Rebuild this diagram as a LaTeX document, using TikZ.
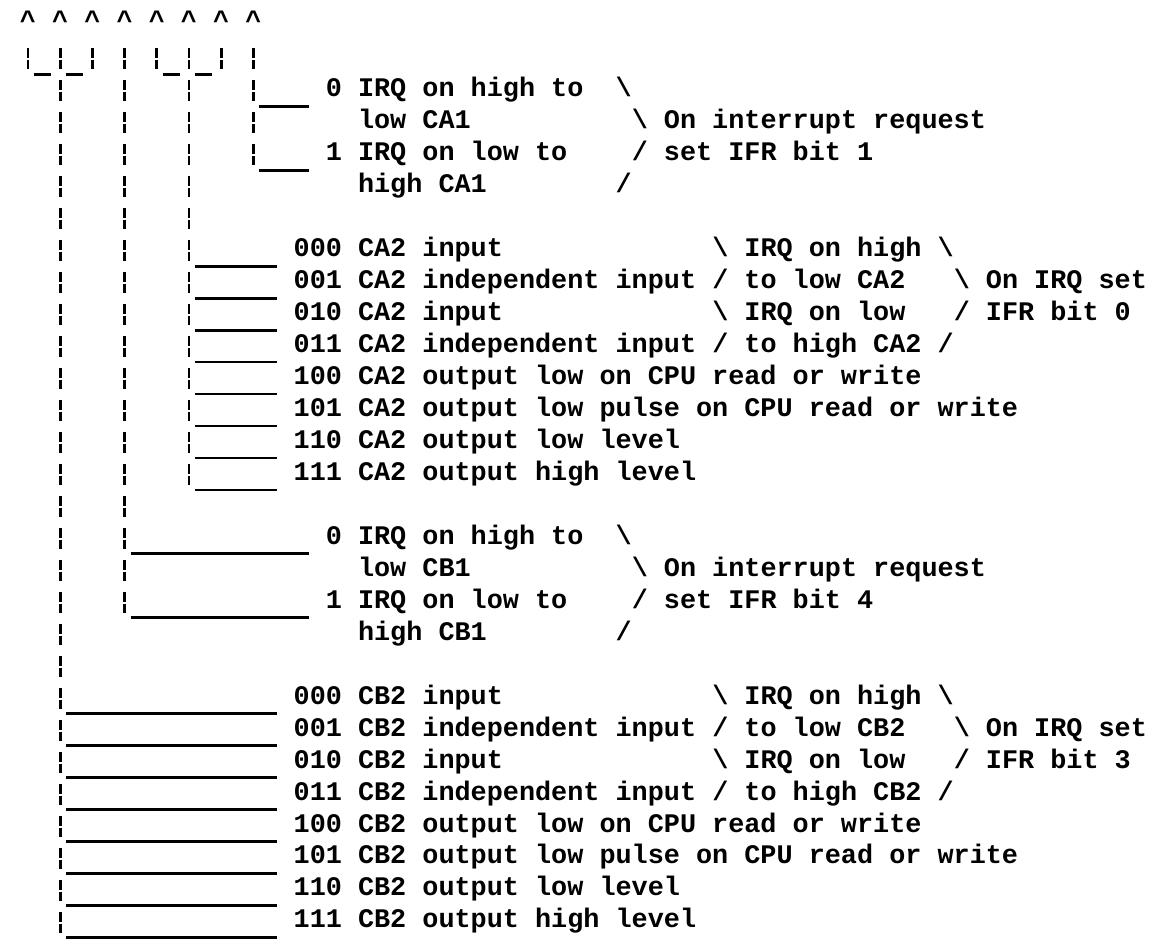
\documentclass[tikz,border=0pt]{standalone}
\usepackage{fontspec}
\newfontfamily\typefont{Liberation Mono}
\usetikzlibrary{calc}
\begin{document}
\begin{tikzpicture}[x=16.1pt,y=-31.96pt,
  txt/.style={anchor=base west,inner sep=0pt,outer sep=0pt,
    font=\typefont\bfseries\fontsize{26.83pt}{32pt}\selectfont},
  pipe/.style={line width=2.8pt,dash pattern=on 10pt off 2pt on 9pt off 11pt},
  rule/.style={line width=2.8pt}]
% one grid unit = one character cell; (c,r) = left edge of column c on baseline r
\useasboundingbox (-3.85pt,33pt) rectangle (1148.15pt,-907pt);

% bit markers 7..0
\foreach \b/\c in {7/1,6/3,5/5,4/7,3/9,2/11,1/13,0/15}
  \node[txt] (bit\b) at (\c,-0.1) {\textasciicircum};

\coordinate (ptop) at ([yshift=17pt]0,1);
\coordinate (pjoin) at (0,1.297);

% ---- CA1 control (bit 0)
\node[txt] (ca1a) at (20,2) {0 IRQ on high to};
\node[txt] (ca1ax) at (38,2) {\textbackslash};
\node[txt] (ca1b) at (22,3) {low CA1};
\node[txt] (ca1bx) at (39,3) {\textbackslash{} On interrupt request};
\node[txt] (ca1c) at (20,4) {1 IRQ on low to};
\node[txt] (ca1cx) at (39,4) {/ set IFR bit 1};
\node[txt] (ca1d) at (22,5) {high CA1};
\node[txt] (ca1dx) at (38,5) {/};

% ---- CA2 control (bits 3-1)
\foreach \t [count=\i from 0] in {000 CA2 input,001 CA2 independent input,
    010 CA2 input,011 CA2 independent input,
    100 CA2 output low on CPU read or write,
    101 CA2 output low pulse on CPU read or write,
    110 CA2 output low level,111 CA2 output high level}
  \node[txt] (ca2o\i) at (18,7+\i) {\t};
\node[txt] (ca2n1) at (44,7) {\textbackslash{} IRQ on high \textbackslash};
\node[txt] (ca2n2) at (44,8) {/ to low CA2};
\node[txt] (ca2n3) at (59,8) {\textbackslash{} On IRQ set};
\node[txt] (ca2n4) at (44,9) {\textbackslash{} IRQ on low};
\node[txt] (ca2n5) at (59,9) {/ IFR bit 0};
\node[txt] (ca2n6) at (44,10) {/ to high CA2 /};

% ---- CB1 control (bit 4)
\node[txt] (cb1a) at (20,16) {0 IRQ on high to};
\node[txt] (cb1ax) at (38,16) {\textbackslash};
\node[txt] (cb1b) at (22,17) {low CB1};
\node[txt] (cb1bx) at (39,17) {\textbackslash{} On interrupt request};
\node[txt] (cb1c) at (20,18) {1 IRQ on low to};
\node[txt] (cb1cx) at (39,18) {/ set IFR bit 4};
\node[txt] (cb1d) at (22,19) {high CB1};
\node[txt] (cb1dx) at (38,19) {/};

% ---- CB2 control (bits 7-5)
\foreach \t [count=\i from 0] in {000 CB2 input,001 CB2 independent input,
    010 CB2 input,011 CB2 independent input,
    100 CB2 output low on CPU read or write,
    101 CB2 output low pulse on CPU read or write,
    110 CB2 output low level,111 CB2 output high level}
  \node[txt] (cb2o\i) at (18,21+\i) {\t};
\node[txt] (cb2n1) at (44,21) {\textbackslash{} IRQ on high \textbackslash};
\node[txt] (cb2n2) at (44,22) {/ to low CB2};
\node[txt] (cb2n3) at (59,22) {\textbackslash{} On IRQ set};
\node[txt] (cb2n4) at (44,23) {\textbackslash{} IRQ on low};
\node[txt] (cb2n5) at (59,23) {/ IFR bit 3};
\node[txt] (cb2n6) at (44,24) {/ to high CB2 /};

% ---- bit lines
\foreach \b in {7,5,3,1}
  \draw[pipe] (bit\b |- ptop) -- (bit\b |- pjoin);
\foreach \a in {2,4,10,12}
  \draw[rule] ([xshift=-2pt]\a,1.297) -- ([xshift=-1pt]\a+1,1.297);
\draw[pipe] (bit6 |- ptop) -- ($(bit6 |- cb2o7.base)+(0,0.297)$);
\draw[pipe] (bit4 |- ptop) -- ($(bit4 |- cb1c.base)+(0,0.297)$);
\draw[pipe] (bit2 |- ptop) -- ($(bit2 |- ca2o7.base)+(0,0.297)$);
\draw[pipe] (bit0 |- ptop) -- ($(bit0 |- ca1c.base)+(0,0.297)$);

% ---- branches to the option texts
\foreach \n in {ca1a,ca1c}
  \draw[rule] ($(bit0.base west |- \n.base)+(1,0.297)+(-2pt,0)$)
    -- ($(\n.base west)+(-1,0.297)+(-1pt,0)$);
\foreach \i in {0,...,7}
  \draw[rule] ($(bit2.base west |- ca2o\i.base)+(1,0.297)+(-2pt,0)$)
    -- ($(ca2o\i.base west)+(-1,0.297)+(-1pt,0)$);
\foreach \n in {cb1a,cb1c}
  \draw[rule] ($(bit4.base west |- \n.base)+(1,0.297)+(-2pt,0)$)
    -- ($(\n.base west)+(-1,0.297)+(-1pt,0)$);
\foreach \i in {0,...,7}
  \draw[rule] ($(bit6.base west |- cb2o\i.base)+(1,0.297)+(-2pt,0)$)
    -- ($(cb2o\i.base west)+(-1,0.297)+(-1pt,0)$);
\end{tikzpicture}
\end{document}
